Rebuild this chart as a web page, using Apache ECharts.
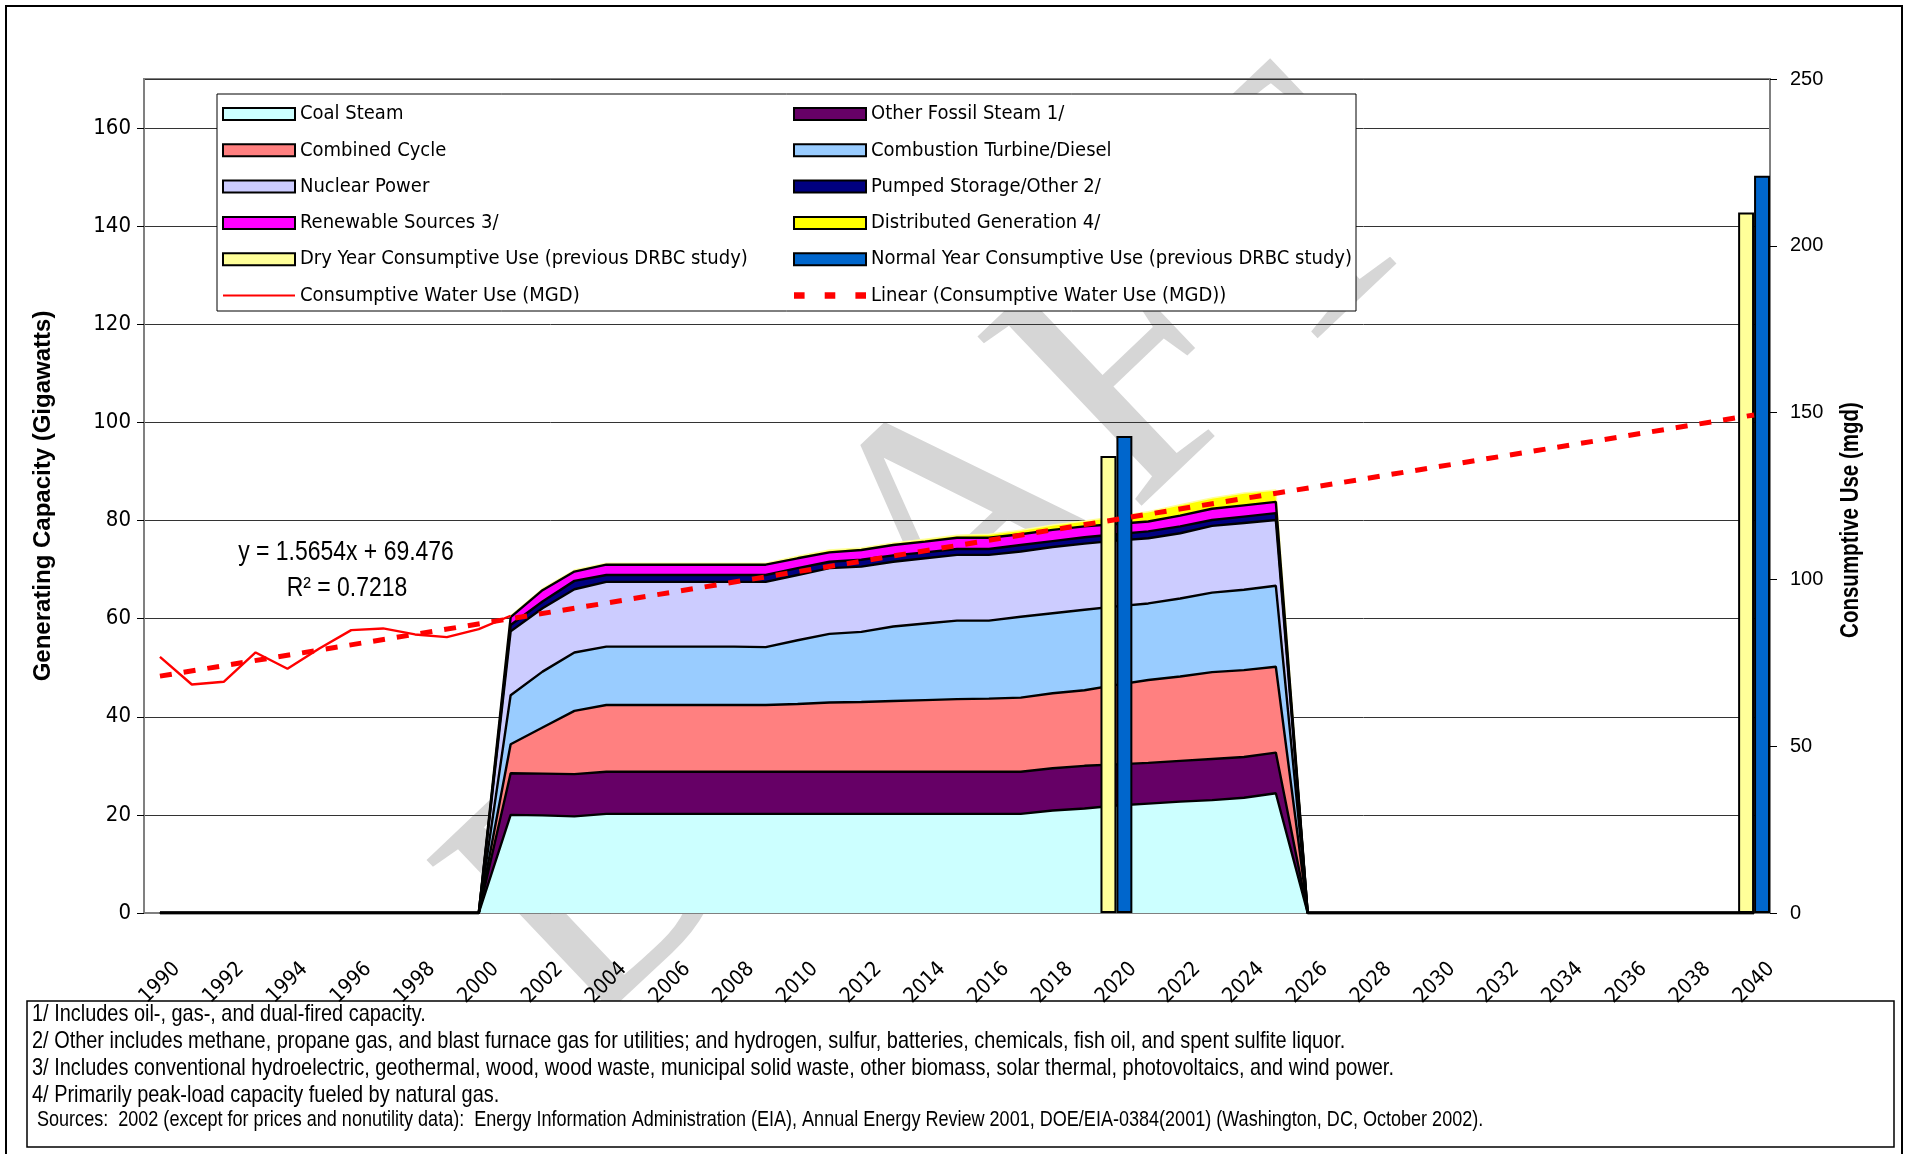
<!DOCTYPE html>
<html>
<head>
<meta charset="utf-8">
<title>Generating Capacity and Consumptive Use</title>
<script src="https://cdn.jsdelivr.net/npm/echarts@6/dist/echarts.min.js"></script>
<style>
  html, body { margin: 0; padding: 0; background: #fff; }
  #main { width: 1910px; height: 1154px; }
</style>
</head>
<body>
<div id="main"></div>
<script>
  // categories
  const years = ['1990','1991','1992','1993','1994','1995','1996','1997','1998','1999',
    '2000','2001','2002','2003','2004','2005','2006','2007','2008','2009',
    '2010','2011','2012','2013','2014','2015','2016','2017','2018','2019',
    '2020','2021','2022','2023','2024','2025','2026','2027','2028','2029',
    '2030','2031','2032','2033','2034','2035','2036','2037','2038','2039','2040'];

  // capacity by source, gigawatts, 2001 - 2025 (zero in the other years)
  const capFirstYear = '2001';
  const coalSteam = [20.0,19.9,19.7,20.2,20.2,20.2,20.2,20.2,20.2,20.2,20.2,20.2,20.2,20.2,20.2,20.2,20.2,20.9,21.3,21.9,22.3,22.7,23.0,23.5,24.4];
  const otherFossil = [8.5,8.5,8.6,8.6,8.6,8.6,8.6,8.6,8.6,8.6,8.6,8.6,8.6,8.6,8.6,8.6,8.6,8.6,8.7,8.4,8.3,8.3,8.4,8.3,8.3];
  const combinedCycle = [5.9,9.4,12.9,13.6,13.6,13.6,13.6,13.6,13.6,13.8,14.1,14.2,14.4,14.6,14.8,14.9,15.1,15.3,15.4,16.2,16.9,17.2,17.7,17.7,17.5];
  const combustionTurbine = [10.0,11.4,11.9,11.9,11.9,11.9,11.9,11.9,11.8,13.0,14.0,14.3,15.2,15.6,16.0,15.9,16.5,16.3,16.4,16.0,15.6,15.9,16.2,16.4,16.5];
  const nuclear = [13.0,12.9,12.9,13.2,13.2,13.2,13.2,13.2,13.3,13.3,13.4,13.3,13.2,13.3,13.4,13.4,13.3,13.5,13.5,13.4,13.3,13.3,13.6,13.6,13.4];
  const pumpedStorage = [1.3,1.4,1.7,1.4,1.4,1.4,1.4,1.4,1.4,1.4,1.3,1.4,1.3,1.2,1.2,1.2,1.3,1.2,1.3,1.3,1.4,1.4,1.2,1.3,1.4];
  const renewables = [1.6,2.3,1.9,2.1,2.1,2.1,2.1,2.1,2.1,2.0,1.9,2.0,2.1,2.2,2.3,2.3,2.2,2.3,2.2,2.1,2.0,2.2,2.3,2.3,2.3];
  const distributedGen = [0.3,0.3,0.3,0.3,0.3,0.3,0.3,0.3,0.3,0.4,0.5,0.4,0.4,0.5,0.5,0.7,0.8,1.0,1.1,1.5,2.0,2.2,2.2,2.5,2.4];

  // consumptive water use (mgd), 1990 - 2001
  const waterFirstYear = '1990';
  const waterUse = [76.8,68.5,69.3,78.1,73.2,79.3,84.8,85.3,83.5,82.7,85.1,89.1];

  // linear trend of water use, ends
  const trendYears = ['1990','2040'];
  const trendValues = [71.0,149.3];

  // previous DRBC study bars (mgd)
  const barYears = ['2020','2040'];
  const dryYear = [137,210];
  const normalYear = [143,221];

  const notes = [
    '1/ Includes oil-, gas-, and dual-fired capacity.',
    '2/ Other includes methane, propane gas, and blast furnace gas for utilities; and hydrogen, sulfur, batteries, chemicals, fish oil, and spent sulfite liquor.',
    '3/ Includes conventional hydroelectric, geothermal, wood, wood waste, municipal solid waste, other biomass, solar thermal, photovoltaics, and wind power.',
    '4/ Primarily peak-load capacity fueled by natural gas.',
    ' Sources:  2002 (except for prices and nonutility data):  Energy Information Administration (EIA), Annual Energy Review 2001, DOE/EIA-0384(2001) (Washington, DC, October 2002).'
  ];

  const NARROW = '"Liberation Sans Narrow", "Arial Narrow", "DejaVu Sans Condensed", sans-serif';
  const ARIAL = '"Liberation Sans", Arial, sans-serif';

  function spread(values, firstYear, fill) {
    const start = years.indexOf(firstYear);
    return years.map((y, i) => (i >= start && i < start + values.length) ? values[i - start] : fill);
  }
  function pick(whichYears, values) {
    return years.map(y => {
      const i = whichYears.indexOf(y);
      return i < 0 ? null : values[i];
    });
  }

  const areas = [
    ['Coal Steam', coalSteam, '#CCFFFF'],
    ['Other Fossil Steam 1/', otherFossil, '#660066'],
    ['Combined Cycle', combinedCycle, '#FF8080'],
    ['Combustion Turbine/Diesel', combustionTurbine, '#99CCFF'],
    ['Nuclear Power', nuclear, '#CCCCFF'],
    ['Pumped Storage/Other 2/', pumpedStorage, '#000080'],
    ['Renewable Sources 3/', renewables, '#FF00FF'],
    ['Distributed Generation 4/', distributedGen, '#FFFF00']
  ];

  let series = areas.map(([name, vals, color], i) => ({
    name: name,
    type: 'line',
    stack: 'capacity',
    data: spread(vals, capFirstYear, 0),
    symbol: 'none',
    itemStyle: { color: color },
    areaStyle: { color: color, opacity: 1 },
    lineStyle: i === 7 ? { color: '#FFFF99', width: 1.5 } : { color: '#000', width: 2.4 },
    z: i === 7 ? 1 : 2,
    emphasis: { disabled: true }
  }));

  series.push({
    name: 'Dry Year Consumptive Use (previous DRBC study)',
    type: 'bar',
    yAxisIndex: 1,
    data: pick(barYears, dryYear),
    itemStyle: { color: '#FFFF99', borderColor: '#000', borderWidth: 2 },
    barGap: '0%',
    barCategoryGap: '0%',
    z: 3
  });
  series.push({
    name: 'Normal Year Consumptive Use (previous DRBC study)',
    type: 'bar',
    yAxisIndex: 1,
    data: pick(barYears, normalYear),
    itemStyle: { color: '#0066CC', borderColor: '#000', borderWidth: 2 },
    barGap: '0%',
    barCategoryGap: '0%',
    z: 3
  });
  series.push({
    name: 'Consumptive Water Use (MGD)',
    type: 'line',
    yAxisIndex: 1,
    data: spread(waterUse, waterFirstYear, null),
    symbol: 'none',
    lineStyle: { color: '#FF0000', width: 2.4 },
    itemStyle: { color: '#FF0000' },
    z: 4
  });
  series.push({
    name: 'Linear (Consumptive Water Use (MGD))',
    type: 'line',
    yAxisIndex: 1,
    data: pick(trendYears, trendValues),
    connectNulls: true,
    symbol: 'none',
    lineStyle: { color: '#FF0000', width: 5, type: [12, 12] },
    itemStyle: { color: '#FF0000' },
    z: 5
  });

  function boxItem(name, color) {
    return { name: name, icon: 'rect', itemStyle: { color: color, borderColor: '#000', borderWidth: 2 } };
  }
  const legendText = { fontFamily: NARROW, fontSize: 20, color: '#000', lineHeight: 20 };
  const legendBase = {
    orient: 'vertical', top: 104, itemWidth: 72, itemHeight: 12, itemGap: 16.3,
    selectedMode: false, textStyle: legendText, padding: 0
  };

  const noteY = [1014, 1041, 1068, 1095, 1120];

  const myChart = echarts.init(document.getElementById('main'), null, { renderer: 'canvas' });
  myChart.setOption({
    backgroundColor: '#fff',
    animation: false,
    grid: {
      left: 144, right: 140, top: 79, bottom: 241,
      show: true, borderColor: '#808080', borderWidth: 2,
      outerBoundsMode: 'none'
    },
    legend: [
      Object.assign({}, legendBase, {
        left: 222,
        data: [
          boxItem('Coal Steam', '#CCFFFF'),
          boxItem('Combined Cycle', '#FF8080'),
          boxItem('Nuclear Power', '#CCCCFF'),
          boxItem('Renewable Sources 3/', '#FF00FF'),
          boxItem('Dry Year Consumptive Use (previous DRBC study)', '#FFFF99'),
          { name: 'Consumptive Water Use (MGD)', icon: 'path://M0,0H72V2H0Z', itemStyle: { color: '#FF0000', borderWidth: 0 } }
        ]
      }),
      Object.assign({}, legendBase, {
        left: 793,
        data: [
          boxItem('Other Fossil Steam 1/', '#660066'),
          boxItem('Combustion Turbine/Diesel', '#99CCFF'),
          boxItem('Pumped Storage/Other 2/', '#000080'),
          boxItem('Distributed Generation 4/', '#FFFF00'),
          boxItem('Normal Year Consumptive Use (previous DRBC study)', '#0066CC'),
          { name: 'Linear (Consumptive Water Use (MGD))', icon: 'path://M0,0h10v6h-10zM29,0h10v6h-10zM58,0h10v6h-10z', itemStyle: { color: '#FF0000', borderWidth: 0 } }
        ]
      })
    ],
    xAxis: {
      type: 'category',
      data: years,
      boundaryGap: true,
      axisLine: { lineStyle: { color: '#808080', width: 1 } },
      axisTick: { interval: 0, length: 7, lineStyle: { color: '#000' } },
      axisLabel: { interval: 1, rotate: 45, align: 'center', verticalAlign: 'middle', margin: 70, fontFamily: NARROW, fontSize: 21, color: '#000' },
      splitLine: { show: false }
    },
    yAxis: [
      {
        type: 'value', min: 0, max: 170, interval: 20,
        name: 'Generating Capacity (Gigawatts)',
        nameLocation: 'middle', nameGap: 89,
        nameTextStyle: { fontFamily: ARIAL, fontWeight: 'bold', fontSize: 24, color: '#000' },
        axisLine: { show: true, lineStyle: { color: '#808080' } },
        axisTick: { show: true, length: 7, lineStyle: { color: '#000' } },
        axisLabel: { showMaxLabel: false, margin: 13, fontFamily: NARROW, fontSize: 22, color: '#000' },
        splitLine: { show: true, lineStyle: { color: '#333', width: 1 } }
      },
      {
        type: 'value', min: 0, max: 250, interval: 50, position: 'right',
        axisLine: { show: true, lineStyle: { color: '#808080', width: 2 } },
        axisTick: { show: true, length: 7, lineStyle: { color: '#000' } },
        axisLabel: { margin: 20, fontFamily: ARIAL, fontSize: 20, color: '#000' },
        splitLine: { show: false }
      }
    ],
    graphic: [
      {
        type: 'text', z: -1, x: 944, y: 563, rotation: 0.76,
        style: { text: 'DRAFT', font: '360px "Liberation Serif", serif', fill: '#d6d6d6', align: 'center', verticalAlign: 'middle' },
        silent: true
      },
      { type: 'rect', z: 0, shape: { x: 6, y: 6, width: 1896, height: 1160 }, style: { fill: null, stroke: '#000', lineWidth: 2 }, silent: true },
      { type: 'rect', z: 3, shape: { x: 217, y: 94, width: 1139, height: 217 }, style: { fill: '#fff', stroke: '#000', lineWidth: 1 }, silent: true },
      { type: 'rect', z: 0, shape: { x: 27, y: 1001, width: 1867, height: 146 }, style: { fill: '#fff', stroke: '#000', lineWidth: 1.5 }, silent: true },
      {
        type: 'text', z: 5, x: 1851, y: 520, rotation: Math.PI / 2, scaleX: 0.82,
        style: { text: 'Consumptive Use (mgd)', font: 'bold 25px ' + ARIAL, fill: '#000', align: 'center', verticalAlign: 'middle' }
      },
      { type: 'text', z: 5, x: 346, y: 552, scaleX: 0.82, style: { text: 'y = 1.5654x + 69.476', font: '28px ' + ARIAL, fill: '#000', align: 'center', verticalAlign: 'middle' } },
      { type: 'text', z: 5, x: 347, y: 588, scaleX: 0.82, style: { text: 'R² = 0.7218', font: '28px ' + ARIAL, fill: '#000', align: 'center', verticalAlign: 'middle' } }
    ].concat(notes.map((t, i) => ({
      type: 'text', z: 1, x: 32, y: noteY[i], scaleX: i === 4 ? 0.82 : 0.83,
      style: { text: t, font: (i === 4 ? '22px ' : '24px ') + ARIAL, fill: '#000', verticalAlign: 'middle' }
    }))),
    series: series
  });
</script>
</body>
</html>
